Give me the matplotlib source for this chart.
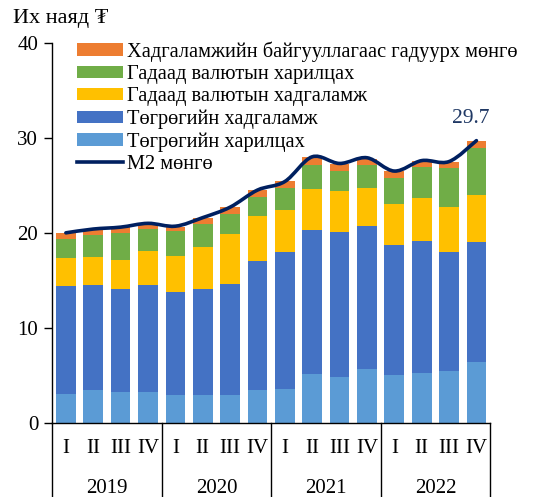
import numpy as np
import matplotlib
matplotlib.use('Agg')
from matplotlib import pyplot as plt
from matplotlib.path import Path
from matplotlib.patches import PathPatch, Patch
from matplotlib.lines import Line2D

plt.rcParams['font.family'] = ['Liberation Serif', 'DejaVu Serif']

# Data (их наяд ₮)
years = ['2019', '2020', '2021', '2022']
quarters = ['I', 'II', 'III', 'IV']
tug_current = [3.05, 3.47, 3.26, 3.3, 2.9, 2.9, 2.9, 3.47, 3.6, 5.12, 4.84, 5.68, 5.05, 5.3, 5.47, 6.42]
tug_deposit = [11.4, 11.03, 10.84, 11.2, 10.85, 11.2, 11.77, 13.53, 14.4, 15.13, 15.26, 15.02, 13.65, 13.8, 12.53, 12.58]
fx_deposit = [2.95, 3.0, 3.05, 3.6, 3.85, 4.45, 5.23, 4.8, 4.45, 4.35, 4.3, 4.0, 4.3, 4.6, 4.7, 5.0]
fx_current = [1.97, 2.3, 2.85, 2.35, 2.6, 2.35, 2.1, 1.95, 2.25, 2.5, 2.1, 2.4, 2.8, 3.2, 4.1, 4.9]
cash_out = [0.63, 0.6, 0.6, 0.45, 0.4, 0.7, 0.7, 0.75, 0.8, 0.85, 0.75, 0.7, 0.7, 0.7, 0.7, 0.8]
m2 = [20.0, 20.4, 20.6, 21.0, 20.7, 21.6, 22.7, 24.5, 25.4, 28.0, 27.3, 27.9, 26.5, 27.6, 27.5, 29.7]

series = [
    (tug_current, '#5B9BD5', 'Төгрөгийн харилцах'),
    (tug_deposit, '#4472C4', 'Төгрөгийн хадгаламж'),
    (fx_deposit, '#FFC000', 'Гадаад валютын хадгаламж'),
    (fx_current, '#70AD47', 'Гадаад валютын харилцах'),
    (cash_out, '#ED7D31', 'Хадгаламжийн байгууллагаас гадуурх мөнгө'),
]
line_color = '#002060'

fig = plt.figure(figsize=(5.38, 4.97), dpi=100)
ax = fig.add_axes([0.097, 0.149, 0.814, 0.765])

x = np.arange(len(m2))
bottom = np.zeros(len(m2))
for vals, col, lab in series:
    ax.bar(x, vals, 0.72, bottom=bottom, color=col, edgecolor='none')
    bottom += np.array(vals)

# smoothed M2 line (Catmull-Rom -> cubic bezier)
pts = np.column_stack([x, m2]).astype(float)
verts = [pts[0]]
codes = [Path.MOVETO]
n = len(pts)
for i in range(n - 1):
    p0 = pts[i - 1] if i > 0 else pts[i]
    p1 = pts[i]
    p2 = pts[i + 1]
    p3 = pts[i + 2] if i + 2 < n else pts[i + 1]
    c1 = p1 + (p2 - p0) / 6
    c2 = p2 - (p3 - p1) / 6
    verts += [c1, c2, p2]
    codes += [Path.CURVE4] * 3
ax.add_patch(PathPatch(Path(verts, codes), facecolor='none', edgecolor=line_color,
                       lw=2.6, capstyle='round', zorder=5))

ax.text(x[-1] - 0.2, m2[-1] + 2.3, f'{m2[-1]:.1f}', color='#1F3864', fontsize=15.5,
        ha='center', va='center')

ax.set_xlim(-0.5, len(m2) - 0.5)
ax.set_ylim(0, 40)
ax.set_yticks([0, 10, 20, 30, 40])
ax.tick_params(axis='y', labelsize=15, length=6, width=1, direction='out', pad=4)
ax.set_xticks([])
for s in ['top', 'right']:
    ax.spines[s].set_visible(False)
ax.spines['left'].set_linewidth(1)
ax.spines['bottom'].set_linewidth(1)

# multi-level category axis
trans = ax.get_xaxis_transform()
for k in range(len(years) + 1):
    xb = k * 4 - 0.5
    ax.plot([xb, xb], [0, -0.21], transform=trans, color='black', lw=1, clip_on=False)
for i in range(len(m2)):
    ax.text(i, -0.068, quarters[i % 4], transform=trans, ha='center', va='center', fontsize=15)
for k, yr in enumerate(years):
    ax.text(k * 4 + 1.5, -0.172, yr, transform=trans, ha='center', va='center', fontsize=15)

fig.text(0.024, 0.963, 'Их наяд ₮', fontsize=16, ha='left', va='center')

handles = [Patch(facecolor=c, edgecolor='none') for _, c, _ in series[::-1]]
labels = [l for _, _, l in series[::-1]]
handles.append(Line2D([0], [0], color=line_color, lw=2.6))
labels.append('М2 мөнгө')
ax.legend(handles, labels, loc='upper left', bbox_to_anchor=(0.057, 1.004), frameon=False,
          fontsize=14.7, handlelength=2.25, handleheight=0.55, labelspacing=0.16,
          handletextpad=0.2, borderpad=0, borderaxespad=0)

fig.savefig('out.png', dpi=100)
